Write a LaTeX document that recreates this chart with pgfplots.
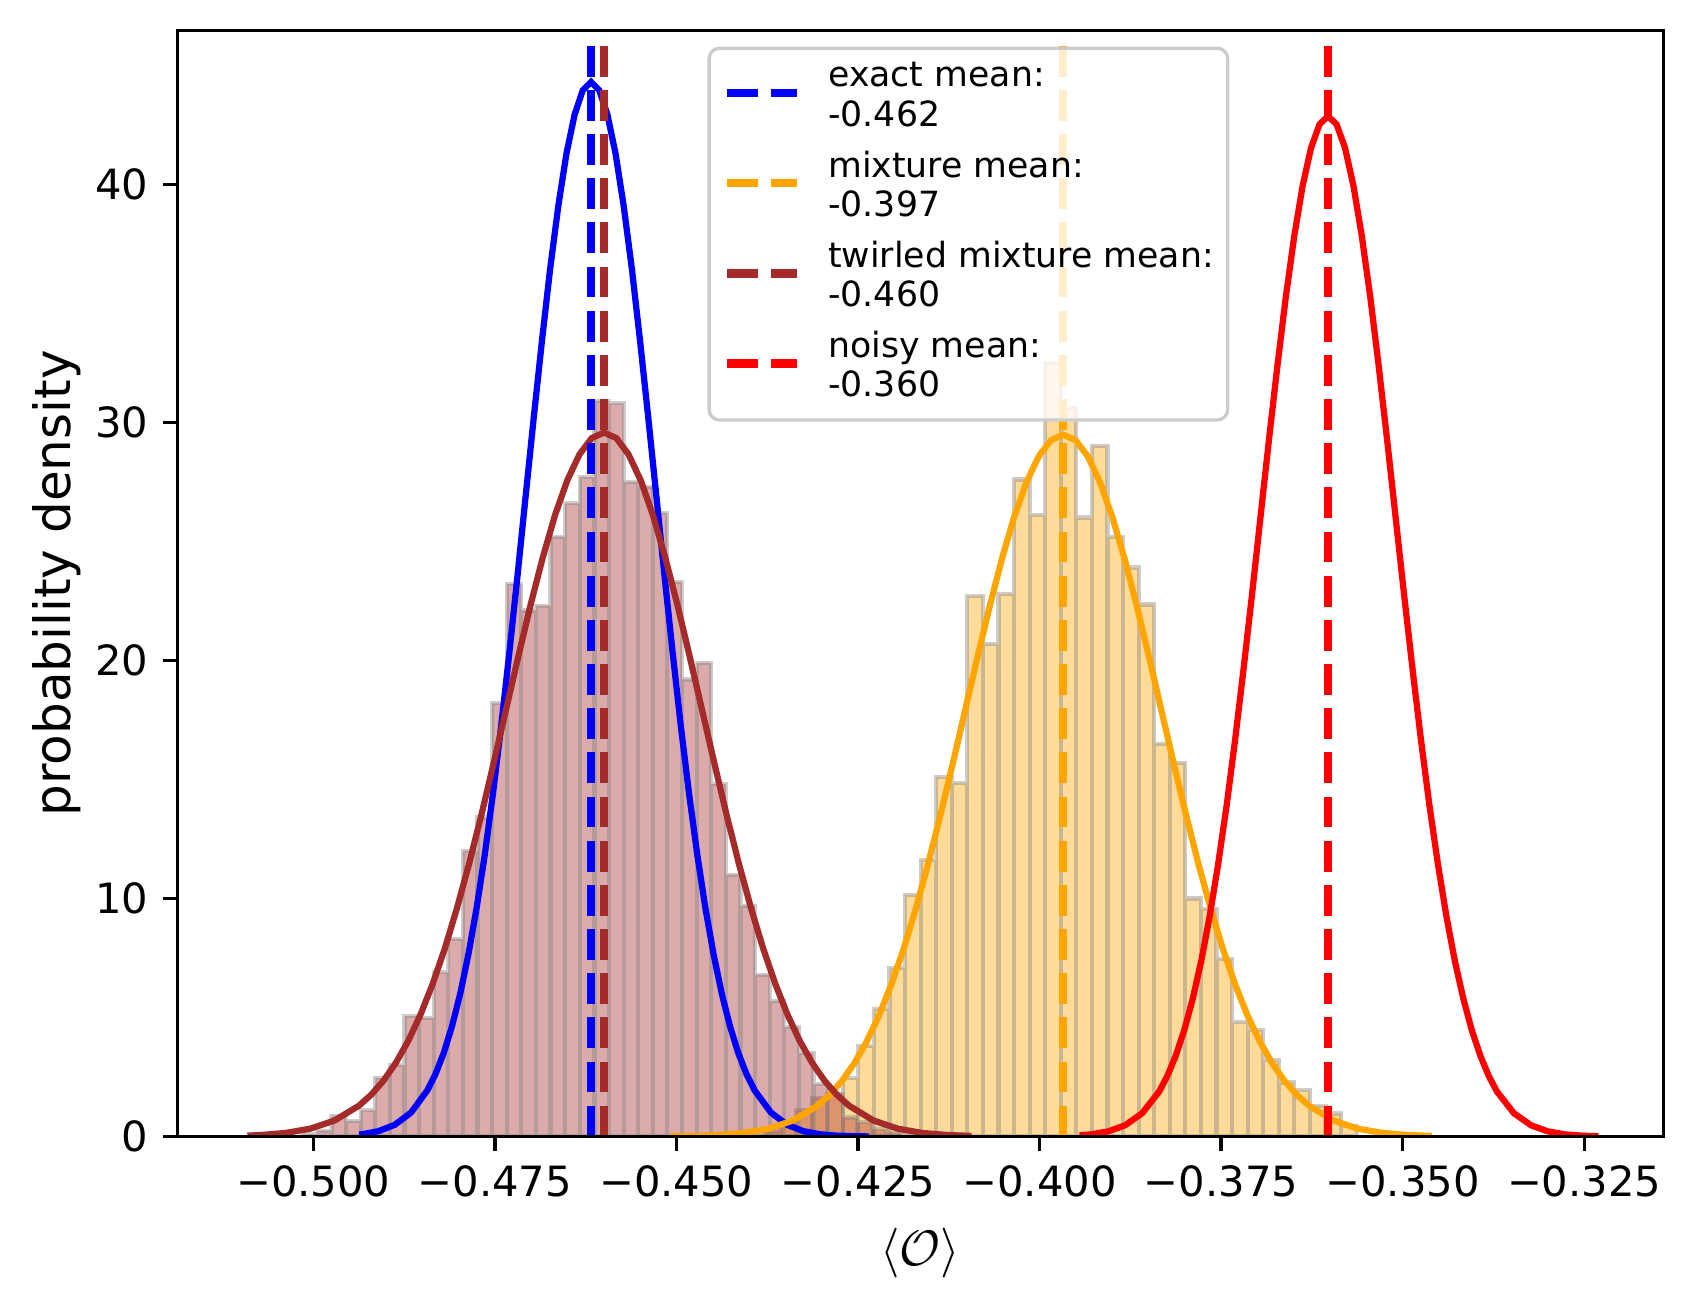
\documentclass[border=0pt]{standalone}
\usepackage{pgfplots}
\pgfplotsset{compat=1.18}
\usepackage{fontspec}
\setmainfont{DejaVu Sans}
\definecolor{mplbrown}{RGB}{165,42,42}
\definecolor{mplorange}{RGB}{255,165,0}
\definecolor{mplblue}{RGB}{0,0,255}
\definecolor{mplred}{RGB}{255,0,0}
\definecolor{mplgray}{RGB}{128,128,128}
\definecolor{legframe}{RGB}{204,204,204}

\begin{document}
\begin{tikzpicture}
\begin{axis}[
  at={(0,0)}, anchor=south west,
  scale only axis,
  width=356.6bp, height=265.5bp,
  xmin=-0.5187, xmax=-0.3141,
  ymin=0, ymax=46.47,
  axis on top,
  axis line style={line width=0.8bp, black},
  every tick/.style={line width=0.8bp, black},
  major tick length=3.5bp,
  tick align=outside,
  xtick pos=bottom, ytick pos=left,
  xtick={-0.5,-0.475,-0.45,-0.425,-0.4,-0.375,-0.35,-0.325},
  xticklabels={−0.500,−0.475,−0.450,−0.425,−0.400,−0.375,−0.350,−0.325},
  ytick={0,10,20,30,40},
  yticklabels={0,10,20,30,40},
  tick label style={font=\fontsize{10bp}{12bp}\selectfont},
  xlabel={$\langle\mathcal{O}\rangle$},
  ylabel={probability density},
  label style={font=\fontsize{12bp}{14bp}\selectfont},
  xlabel style={at={(axis description cs:0.5,-0.1055)}, anchor=center},
  ylabel style={at={(axis description cs:-0.0813,0.5)}, anchor=center},
  legend cell align=left,
  legend image code/.code={\draw[#1] (0bp,1.4bp) -- (16.7bp,1.4bp);},
  legend style={
    at={(0.5323,0.9853)}, anchor=north,
    draw=legframe, line width=0.8bp, rounded corners=2.5bp,
    fill=white, fill opacity=0.8, draw opacity=1, text opacity=1,
    font=\fontsize{8.33bp}{9.43bp}\selectfont,
    inner xsep=3.3bp, inner ysep=2.7bp,
    row sep=2.8bp, column sep=6.6bp,
    nodes={inner sep=0bp, text depth=, text height=},
  },
]

% mixture histogram
\addplot[ybar interval, fill=mplorange, fill opacity=0.4, draw=mplgray, draw opacity=0.4, line width=1bp, forget plot] coordinates {
(-0.43780,0.2) (-0.43566,0.5) (-0.43352,1.1) (-0.43137,1.6) (-0.42923,1.8) (-0.42708,2.45)
(-0.42494,3.8) (-0.42280,5.36) (-0.42065,7.08) (-0.41851,10.15) (-0.41636,11.6) (-0.41422,15.1)
(-0.41208,14.86) (-0.40993,22.7) (-0.40779,20.7) (-0.40564,22.8) (-0.40350,27.6) (-0.40136,26.1)
(-0.39921,32.5) (-0.39707,30.6) (-0.39492,26.0) (-0.39278,29.0) (-0.39064,25.2) (-0.38849,23.9)
(-0.38635,22.35) (-0.38420,16.5) (-0.38206,15.7) (-0.37992,10.0) (-0.37777,9.55) (-0.37563,7.45)
(-0.37348,4.8) (-0.37134,4.47) (-0.36920,3.2) (-0.36705,2.27) (-0.36491,1.94) (-0.36276,1.3)
(-0.36062,0.97) (-0.35848,0.45) (-0.35633,0)
};

% twirled mixture histogram
\addplot[ybar interval, fill=mplbrown, fill opacity=0.4, draw=mplgray, draw opacity=0.4, line width=1bp, forget plot] coordinates {
(-0.50151,0.1) (-0.49950,0.25) (-0.49749,0.87) (-0.49548,0.66) (-0.49347,1.1) (-0.49146,2.45)
(-0.48945,3.0) (-0.48744,5.06) (-0.48543,4.98) (-0.48341,6.9) (-0.48140,8.3) (-0.47939,12.0)
(-0.47738,13.4) (-0.47537,18.2) (-0.47336,23.2) (-0.47135,22.1) (-0.46934,22.3) (-0.46733,25.2)
(-0.46532,26.6) (-0.46331,27.7) (-0.46129,30.9) (-0.45928,30.8) (-0.45727,27.5) (-0.45526,27.3)
(-0.45325,26.2) (-0.45124,23.3) (-0.44923,19.2) (-0.44722,19.9) (-0.44521,14.8) (-0.44320,11.0)
(-0.44118,9.7) (-0.43917,6.8) (-0.43716,5.7) (-0.43515,4.6) (-0.43314,3.5) (-0.43113,2.2)
(-0.42912,1.8) (-0.42711,0.8) (-0.42510,0.6) (-0.42309,0.3) (-0.42108,0.15) (-0.41906,0)
};

% exact fit
\addplot[mplblue, line width=1.5bp, mark=none, forget plot] coordinates {
(-0.49370,0.082) (-0.49328,0.097) (-0.49103,0.225) (-0.48878,0.492) (-0.48653,1.010) (-0.48428,1.947)
(-0.48315,2.640) (-0.48202,3.525) (-0.48090,4.633) (-0.47977,5.996) (-0.47865,7.638) (-0.47752,9.581)
(-0.47639,11.831) (-0.47527,14.382) (-0.47414,17.213) (-0.47302,20.282) (-0.47189,23.528) (-0.47077,26.869)
(-0.46964,30.210) (-0.46851,33.439) (-0.46739,36.440) (-0.46626,39.095) (-0.46514,41.292) (-0.46401,42.937)
(-0.46289,43.955) (-0.46176,44.3) (-0.46063,43.955) (-0.45951,42.937) (-0.45838,41.292) (-0.45726,39.095)
(-0.45613,36.440) (-0.45501,33.439) (-0.45388,30.210) (-0.45275,26.869) (-0.45163,23.528) (-0.45050,20.282)
(-0.44938,17.213) (-0.44825,14.382) (-0.44712,11.831) (-0.44600,9.581) (-0.44487,7.638) (-0.44375,5.996)
(-0.44262,4.633) (-0.44150,3.525) (-0.44037,2.640) (-0.43925,1.947) (-0.43699,1.010) (-0.43474,0.492)
(-0.43249,0.225) (-0.43024,0.097) (-0.42799,0.039) (-0.42574,0.015) (-0.42348,0.005)
};

% mixture fit
\addplot[mplorange, line width=1.5bp, mark=none, forget plot] coordinates {
(-0.45086,0.010) (-0.44748,0.026) (-0.44410,0.064) (-0.44071,0.150) (-0.43733,0.327) (-0.43395,0.672)
(-0.43056,1.295) (-0.42887,1.757) (-0.42718,2.345) (-0.42549,3.083) (-0.42380,3.990) (-0.42210,5.083)
(-0.42041,6.376) (-0.41872,7.873) (-0.41703,9.571) (-0.41534,11.455) (-0.41365,13.497) (-0.41195,15.657)
(-0.41026,17.881) (-0.40857,20.104) (-0.40688,22.253) (-0.40519,24.250) (-0.40350,26.016) (-0.40180,27.478)
(-0.40011,28.573) (-0.39842,29.251) (-0.39673,29.48) (-0.39504,29.251) (-0.39335,28.573) (-0.39166,27.478)
(-0.38996,26.016) (-0.38827,24.250) (-0.38658,22.253) (-0.38489,20.104) (-0.38320,17.881) (-0.38151,15.657)
(-0.37981,13.497) (-0.37812,11.455) (-0.37643,9.571) (-0.37474,7.873) (-0.37305,6.376) (-0.37136,5.083)
(-0.36966,3.990) (-0.36797,3.083) (-0.36628,2.345) (-0.36459,1.757) (-0.36290,1.295) (-0.35951,0.672)
(-0.35613,0.327) (-0.35275,0.150) (-0.34936,0.064) (-0.34598,0.026)
};

% twirled mixture fit
\addplot[mplbrown, line width=1.5bp, mark=none, forget plot] coordinates {
(-0.50908,0.039) (-0.50719,0.065) (-0.50382,0.150) (-0.50044,0.328) (-0.49707,0.674) (-0.49370,1.299)
(-0.49201,1.762) (-0.49032,2.353) (-0.48864,3.092) (-0.48695,4.002) (-0.48527,5.099) (-0.48358,6.395)
(-0.48189,7.897) (-0.48021,9.600) (-0.47852,11.490) (-0.47683,13.538) (-0.47515,15.705) (-0.47346,17.935)
(-0.47177,20.165) (-0.47009,22.321) (-0.46840,24.324) (-0.46672,26.095) (-0.46503,27.562) (-0.46334,28.660)
(-0.46166,29.340) (-0.45997,29.57) (-0.45828,29.340) (-0.45660,28.660) (-0.45491,27.562) (-0.45322,26.095)
(-0.45154,24.324) (-0.44985,22.321) (-0.44817,20.165) (-0.44648,17.935) (-0.44479,15.705) (-0.44311,13.538)
(-0.44142,11.490) (-0.43973,9.600) (-0.43805,7.897) (-0.43636,6.395) (-0.43467,5.099) (-0.43299,4.002)
(-0.43130,3.092) (-0.42962,2.353) (-0.42793,1.762) (-0.42624,1.299) (-0.42287,0.674) (-0.41950,0.328)
(-0.41612,0.150) (-0.41275,0.065) (-0.40938,0.026)
};

% noisy fit
\addplot[mplred, line width=1.5bp, mark=none, forget plot] coordinates {
(-0.39449,0.050) (-0.39285,0.094) (-0.39052,0.218) (-0.38820,0.476) (-0.38587,0.977) (-0.38354,1.883)
(-0.38238,2.554) (-0.38122,3.410) (-0.38005,4.482) (-0.37889,5.801) (-0.37772,7.390) (-0.37656,9.269)
(-0.37540,11.446) (-0.37423,13.915) (-0.37307,16.653) (-0.37191,19.623) (-0.37074,22.763) (-0.36958,25.996)
(-0.36842,29.228) (-0.36725,32.352) (-0.36609,35.256) (-0.36492,37.824) (-0.36376,39.950) (-0.36260,41.541)
(-0.36143,42.526) (-0.36027,42.86) (-0.35911,42.526) (-0.35794,41.541) (-0.35678,39.950) (-0.35562,37.824)
(-0.35445,35.256) (-0.35329,32.352) (-0.35212,29.228) (-0.35096,25.996) (-0.34980,22.763) (-0.34863,19.623)
(-0.34747,16.653) (-0.34631,13.915) (-0.34514,11.446) (-0.34398,9.269) (-0.34282,7.390) (-0.34165,5.801)
(-0.34049,4.482) (-0.33932,3.410) (-0.33816,2.554) (-0.33700,1.883) (-0.33467,0.977) (-0.33234,0.476)
(-0.33002,0.218) (-0.32769,0.094) (-0.32536,0.038) (-0.32303,0.014)
};

% mean lines
\addplot[mplblue, line width=2bp, dash pattern=on 7.4bp off 3.2bp, mark=none] coordinates {(-0.46175,0) (-0.46175,46.47)};
\addlegendentry{\begin{tabular}{@{}l@{}}exact mean:\\-0.462\end{tabular}}
\addplot[mplorange, line width=2bp, dash pattern=on 7.4bp off 3.2bp, mark=none] coordinates {(-0.39676,0) (-0.39676,46.47)};
\addlegendentry{\begin{tabular}{@{}l@{}}mixture mean:\\-0.397\end{tabular}}
\addplot[mplbrown, line width=2bp, dash pattern=on 7.4bp off 3.2bp, mark=none] coordinates {(-0.45997,0) (-0.45997,46.47)};
\addlegendentry{\begin{tabular}{@{}l@{}}twirled mixture mean:\\-0.460\end{tabular}}
\addplot[mplred, line width=2bp, dash pattern=on 7.4bp off 3.2bp, mark=none] coordinates {(-0.36025,0) (-0.36025,46.47)};
\addlegendentry{\begin{tabular}{@{}l@{}}noisy mean:\\-0.360\end{tabular}}

\end{axis}
\pgfresetboundingbox
\useasboundingbox (-42.6bp,-42.35bp) rectangle (363.96bp,272.77bp);
\end{tikzpicture}
\end{document}
